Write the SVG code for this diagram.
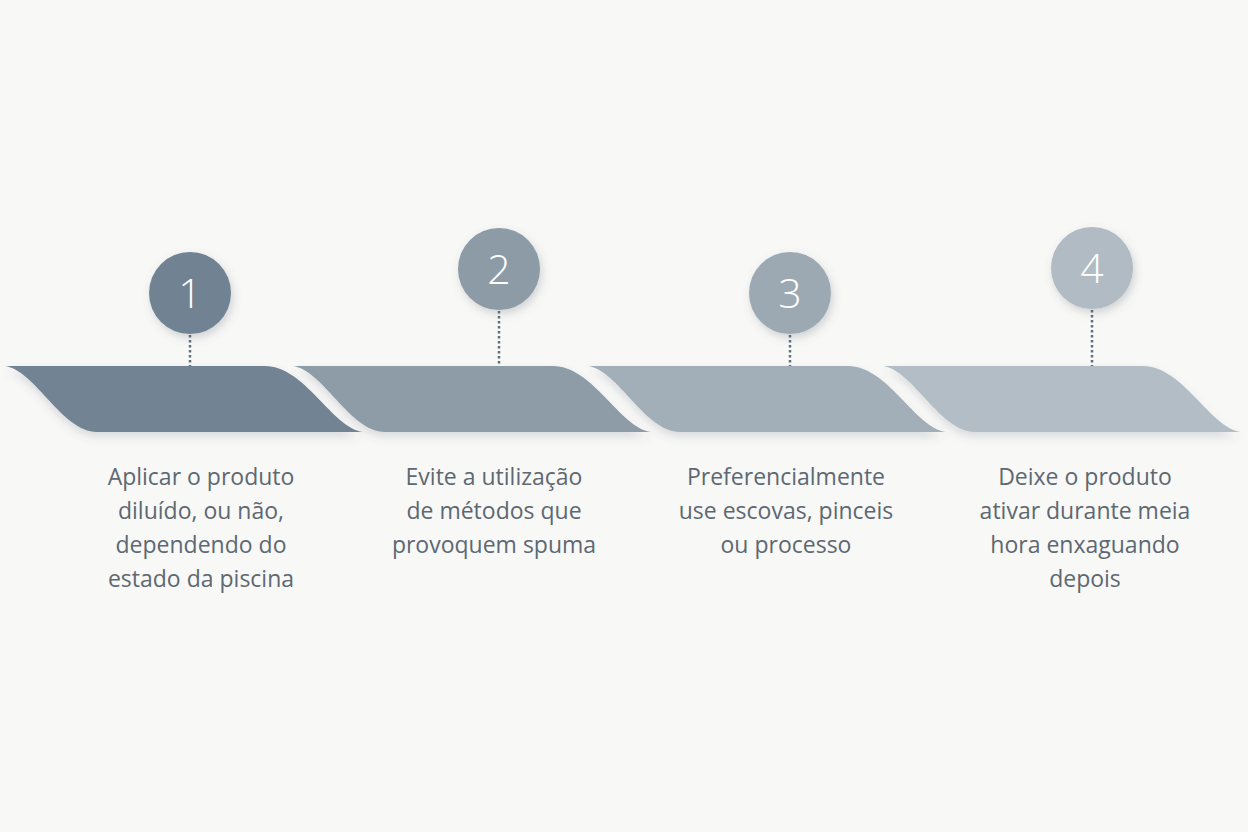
<svg xmlns="http://www.w3.org/2000/svg" width="1248" height="832" viewBox="0 0 1248 832">
  <defs>
    <filter id="sh" x="-20%" y="-30%" width="140%" height="170%">
      <feDropShadow dx="2" dy="4" stdDeviation="4" flood-color="#55606a" flood-opacity="0.25"/>
    </filter>
    <filter id="bsh" x="-5%" y="-20%" width="110%" height="160%">
      <feDropShadow dx="0" dy="5" stdDeviation="4" flood-color="#55606a" flood-opacity="0.18"/>
    </filter>
    <path id="band" d="M0,366 L260,366 C300,366 327,428 358,432 L92,432 C57,432 30,370 0,366 Z"/>
  </defs>
  <style>
    .num { font-family: "Open Sans", "Liberation Sans", sans-serif; font-size: 41px; font-weight: 300; fill: #ffffff; text-anchor: middle; }
    .lbl { font-family: "Open Sans", "Liberation Sans", sans-serif; font-size: 23px; fill: #5d6872; text-anchor: middle; }
    .dot { stroke: #5f6f7e; stroke-width: 2.5; stroke-dasharray: 2.5 2.5; fill: none; }
  </style>
  <rect width="1248" height="832" fill="#f8f8f7"/>

  <g id="connectors">
    <line class="dot" x1="190" y1="335" x2="190" y2="366"/>
    <line class="dot" x1="499" y1="311" x2="499" y2="366"/>
    <line class="dot" x1="790" y1="335" x2="790" y2="366"/>
    <line class="dot" x1="1092" y1="310" x2="1092" y2="366"/>
  </g>

  <g id="step1">
    <use href="#band" x="5" fill="#728493" filter="url(#bsh)"/>
    <circle cx="190" cy="293" r="41" fill="#718392" filter="url(#sh)"/>
    <text class="num" x="190" y="308">1</text>
    <text class="lbl" x="201" y="485">Aplicar o produto</text>
    <text class="lbl" x="201" y="519">diluído, ou não,</text>
    <text class="lbl" x="201" y="553">dependendo do</text>
    <text class="lbl" x="201" y="587">estado da piscina</text>
  </g>

  <g id="step2">
    <use href="#band" x="293" fill="#8e9ca7" filter="url(#bsh)"/>
    <circle cx="499" cy="269" r="41" fill="#8d9ba6" filter="url(#sh)"/>
    <text class="num" x="499" y="284">2</text>
    <text class="lbl" x="494" y="485">Evite a utilização</text>
    <text class="lbl" x="494" y="519">de métodos que</text>
    <text class="lbl" x="494" y="553">provoquem spuma</text>
  </g>

  <g id="step3">
    <use href="#band" x="588" fill="#a3afb8" filter="url(#bsh)"/>
    <circle cx="790" cy="293" r="41" fill="#9ca9b3" filter="url(#sh)"/>
    <text class="num" x="790" y="308">3</text>
    <text class="lbl" x="786" y="485">Preferencialmente</text>
    <text class="lbl" x="786" y="519">use escovas, pinceis</text>
    <text class="lbl" x="786" y="553">ou processo</text>
  </g>

  <g id="step4">
    <use href="#band" x="883" fill="#b3bdc5" filter="url(#bsh)"/>
    <circle cx="1092" cy="268" r="41" fill="#b1bbc3" filter="url(#sh)"/>
    <text class="num" x="1092" y="283">4</text>
    <text class="lbl" x="1085" y="485">Deixe o produto</text>
    <text class="lbl" x="1085" y="519">ativar durante meia</text>
    <text class="lbl" x="1085" y="553">hora enxaguando</text>
    <text class="lbl" x="1085" y="587">depois</text>
  </g>
</svg>
